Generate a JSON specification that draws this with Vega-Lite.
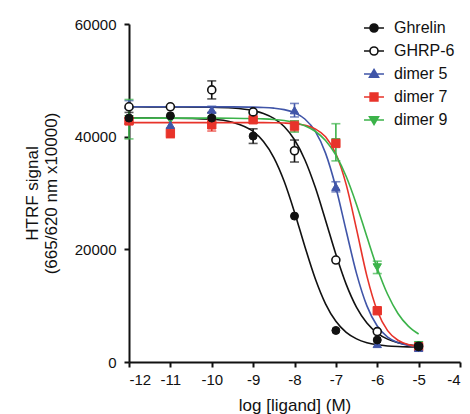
{
  "$schema": "https://vega.github.io/schema/vega-lite/v6.json",
  "width": 331,
  "height": 338,
  "autosize": {"type": "none"},
  "padding": {"left": 129, "top": 24, "right": 10, "bottom": 52},
  "background": "white",
  "config": {
    "view": {"stroke": null},
    "font": "Liberation Sans",
    "axis": {"grid": false, "domainColor": "#111", "domainWidth": 2, "tickColor": "#111", "tickWidth": 2, "tickSize": 5, "labelFont": "Liberation Sans", "labelFontSize": 15, "labelColor": "#111", "titleFont": "Liberation Sans", "titleFontSize": 17, "titleFontWeight": "normal", "titleColor": "#111"},
    "legend": {"symbolStrokeWidth": 1.6, "labelFont": "Liberation Sans", "labelFontSize": 16, "labelColor": "#111"}
  },
  "datasets": {
    "pts": [
      {"s": "Ghrelin", "x": -12, "y": 43300, "lo": 42300, "hi": 44300},
      {"s": "Ghrelin", "x": -11, "y": 43700},
      {"s": "Ghrelin", "x": -10, "y": 43300, "lo": 42300, "hi": 44300},
      {"s": "Ghrelin", "x": -9, "y": 40100, "lo": 38800, "hi": 41400},
      {"s": "Ghrelin", "x": -8, "y": 25900},
      {"s": "Ghrelin", "x": -7, "y": 5600},
      {"s": "Ghrelin", "x": -6, "y": 3900},
      {"s": "Ghrelin", "x": -5, "y": 2700},
      {"s": "GHRP-6", "x": -12, "y": 45300},
      {"s": "GHRP-6", "x": -11, "y": 45300},
      {"s": "GHRP-6", "x": -10, "y": 48300, "lo": 46700, "hi": 49900},
      {"s": "GHRP-6", "x": -9, "y": 44400},
      {"s": "GHRP-6", "x": -8, "y": 37500, "lo": 35500, "hi": 39400},
      {"s": "GHRP-6", "x": -7, "y": 18100},
      {"s": "GHRP-6", "x": -6, "y": 5400},
      {"s": "GHRP-6", "x": -5, "y": 2800},
      {"s": "dimer 5", "x": -12, "y": 45700, "lo": 45000, "hi": 46400},
      {"s": "dimer 5", "x": -11, "y": 42100},
      {"s": "dimer 5", "x": -10, "y": 44800, "lo": 44200, "hi": 45400},
      {"s": "dimer 5", "x": -9, "y": 44600},
      {"s": "dimer 5", "x": -8, "y": 44700, "lo": 43500, "hi": 45900},
      {"s": "dimer 5", "x": -7, "y": 31100, "lo": 30200, "hi": 32000},
      {"s": "dimer 5", "x": -6, "y": 3200},
      {"s": "dimer 5", "x": -5, "y": 2500},
      {"s": "dimer 7", "x": -12, "y": 42800},
      {"s": "dimer 7", "x": -11, "y": 40600, "lo": 39800, "hi": 41500},
      {"s": "dimer 7", "x": -10, "y": 42100, "lo": 41000, "hi": 43000},
      {"s": "dimer 7", "x": -9, "y": 43000},
      {"s": "dimer 7", "x": -8, "y": 41900, "lo": 41000, "hi": 42800},
      {"s": "dimer 7", "x": -7, "y": 38800},
      {"s": "dimer 7", "x": -6, "y": 9100},
      {"s": "dimer 7", "x": -5, "y": 2700},
      {"s": "dimer 9", "x": -12, "y": 43100, "lo": 39600, "hi": 46600},
      {"s": "dimer 9", "x": -11, "y": 43000},
      {"s": "dimer 9", "x": -10, "y": 43000},
      {"s": "dimer 9", "x": -9, "y": 43600, "lo": 43000, "hi": 44200},
      {"s": "dimer 9", "x": -8, "y": 41800, "lo": 40800, "hi": 42800},
      {"s": "dimer 9", "x": -7, "y": 39000, "lo": 35700, "hi": 42300},
      {"s": "dimer 9", "x": -6, "y": 16800, "lo": 15700, "hi": 17900},
      {"s": "dimer 9", "x": -5, "y": 3000}
    ],
    "fit": [
      {"s": "Ghrelin", "x": -12, "y": 43300}, {"s": "Ghrelin", "x": -11, "y": 43280}, {"s": "Ghrelin", "x": -10, "y": 43080}, {"s": "Ghrelin", "x": -9.5, "y": 42560}, {"s": "Ghrelin", "x": -9, "y": 40920}, {"s": "Ghrelin", "x": -8.75, "y": 39150}, {"s": "Ghrelin", "x": -8.5, "y": 36300}, {"s": "Ghrelin", "x": -8.25, "y": 32090}, {"s": "Ghrelin", "x": -8, "y": 26600}, {"s": "Ghrelin", "x": -7.75, "y": 20500}, {"s": "Ghrelin", "x": -7.5, "y": 14820}, {"s": "Ghrelin", "x": -7.25, "y": 10330}, {"s": "Ghrelin", "x": -7, "y": 7220}, {"s": "Ghrelin", "x": -6.75, "y": 5260}, {"s": "Ghrelin", "x": -6.5, "y": 4100}, {"s": "Ghrelin", "x": -6.25, "y": 3430}, {"s": "Ghrelin", "x": -6, "y": 3060}, {"s": "Ghrelin", "x": -5.75, "y": 2850}, {"s": "Ghrelin", "x": -5.5, "y": 2740}, {"s": "Ghrelin", "x": -5.25, "y": 2680}, {"s": "Ghrelin", "x": -5, "y": 2650},
      {"s": "GHRP-6", "x": -12, "y": 45300}, {"s": "GHRP-6", "x": -11, "y": 45290}, {"s": "GHRP-6", "x": -10, "y": 45230}, {"s": "GHRP-6", "x": -9.5, "y": 45090}, {"s": "GHRP-6", "x": -9, "y": 44630}, {"s": "GHRP-6", "x": -8.75, "y": 44130}, {"s": "GHRP-6", "x": -8.5, "y": 43260}, {"s": "GHRP-6", "x": -8.25, "y": 41810}, {"s": "GHRP-6", "x": -8, "y": 39460}, {"s": "GHRP-6", "x": -7.75, "y": 35910}, {"s": "GHRP-6", "x": -7.5, "y": 31050}, {"s": "GHRP-6", "x": -7.25, "y": 25180}, {"s": "GHRP-6", "x": -7, "y": 19120}, {"s": "GHRP-6", "x": -6.75, "y": 13780}, {"s": "GHRP-6", "x": -6.5, "y": 9700}, {"s": "GHRP-6", "x": -6.25, "y": 6910}, {"s": "GHRP-6", "x": -6, "y": 5130}, {"s": "GHRP-6", "x": -5.75, "y": 4060}, {"s": "GHRP-6", "x": -5.5, "y": 3440}, {"s": "GHRP-6", "x": -5.25, "y": 3070}, {"s": "GHRP-6", "x": -5, "y": 2870},
      {"s": "dimer 5", "x": -12, "y": 45300}, {"s": "dimer 5", "x": -11, "y": 45300}, {"s": "dimer 5", "x": -10, "y": 45297}, {"s": "dimer 5", "x": -9.5, "y": 45290}, {"s": "dimer 5", "x": -9, "y": 45250}, {"s": "dimer 5", "x": -8.75, "y": 45190}, {"s": "dimer 5", "x": -8.5, "y": 45060}, {"s": "dimer 5", "x": -8.25, "y": 44800}, {"s": "dimer 5", "x": -8, "y": 44250}, {"s": "dimer 5", "x": -7.75, "y": 43140}, {"s": "dimer 5", "x": -7.5, "y": 40970}, {"s": "dimer 5", "x": -7.25, "y": 37080}, {"s": "dimer 5", "x": -7, "y": 30990}, {"s": "dimer 5", "x": -6.75, "y": 23260}, {"s": "dimer 5", "x": -6.5, "y": 15690}, {"s": "dimer 5", "x": -6.25, "y": 9960}, {"s": "dimer 5", "x": -6, "y": 6380}, {"s": "dimer 5", "x": -5.75, "y": 4430}, {"s": "dimer 5", "x": -5.5, "y": 3440}, {"s": "dimer 5", "x": -5.25, "y": 2950}, {"s": "dimer 5", "x": -5, "y": 2710},
      {"s": "dimer 7", "x": -12, "y": 42500}, {"s": "dimer 7", "x": -11, "y": 42500}, {"s": "dimer 7", "x": -10, "y": 42500}, {"s": "dimer 7", "x": -9.5, "y": 42500}, {"s": "dimer 7", "x": -9, "y": 42490}, {"s": "dimer 7", "x": -8.75, "y": 42485}, {"s": "dimer 7", "x": -8.5, "y": 42464}, {"s": "dimer 7", "x": -8.25, "y": 42415}, {"s": "dimer 7", "x": -8, "y": 42300}, {"s": "dimer 7", "x": -7.75, "y": 42025}, {"s": "dimer 7", "x": -7.5, "y": 41390}, {"s": "dimer 7", "x": -7.25, "y": 39970}, {"s": "dimer 7", "x": -7, "y": 36970}, {"s": "dimer 7", "x": -6.75, "y": 31480}, {"s": "dimer 7", "x": -6.5, "y": 23540}, {"s": "dimer 7", "x": -6.25, "y": 15250}, {"s": "dimer 7", "x": -6, "y": 9090}, {"s": "dimer 7", "x": -5.75, "y": 5570}, {"s": "dimer 7", "x": -5.5, "y": 3856}, {"s": "dimer 7", "x": -5.25, "y": 3083}, {"s": "dimer 7", "x": -5, "y": 2748},
      {"s": "dimer 9", "x": -12, "y": 43300}, {"s": "dimer 9", "x": -11, "y": 43300}, {"s": "dimer 9", "x": -10, "y": 43290}, {"s": "dimer 9", "x": -9.5, "y": 43275}, {"s": "dimer 9", "x": -9, "y": 43220}, {"s": "dimer 9", "x": -8.75, "y": 43160}, {"s": "dimer 9", "x": -8.5, "y": 43050}, {"s": "dimer 9", "x": -8.25, "y": 42860}, {"s": "dimer 9", "x": -8, "y": 42530}, {"s": "dimer 9", "x": -7.75, "y": 41950}, {"s": "dimer 9", "x": -7.5, "y": 40960}, {"s": "dimer 9", "x": -7.25, "y": 39320}, {"s": "dimer 9", "x": -7, "y": 36720}, {"s": "dimer 9", "x": -6.75, "y": 32930}, {"s": "dimer 9", "x": -6.5, "y": 27930}, {"s": "dimer 9", "x": -6.25, "y": 22220}, {"s": "dimer 9", "x": -6, "y": 16660}, {"s": "dimer 9", "x": -5.75, "y": 12020}, {"s": "dimer 9", "x": -5.5, "y": 8620}, {"s": "dimer 9", "x": -5.25, "y": 6370}, {"s": "dimer 9", "x": -5, "y": 4970}
    ]
  },
  "encoding": {
    "x": {"field": "x", "type": "quantitative", "scale": {"domain": [-12, -4], "nice": false, "zero": false},
      "axis": {"title": "log [ligand] (M)", "values": [-12, -11, -10, -9, -8, -7, -6, -5, -4], "labelExpr": "datum.value + ''", "labelPadding": 5, "titlePadding": 10}},
    "y": {"field": "y", "type": "quantitative", "scale": {"domain": [0, 60000], "nice": false},
      "axis": {"title": ["HTRF signal", "(665/620 nm x10000)"], "values": [0, 20000, 40000, 60000], "labelExpr": "datum.value + ''", "labelPadding": 8, "titlePadding": 14, "titleLineHeight": 19}}
  },
  "layer": [
    {
      "data": {"name": "pts"},
      "mark": {"type": "point", "filled": true, "opacity": 1, "size": 1},
      "encoding": {
        "shape": {"field": "s", "type": "nominal",
          "scale": {"domain": ["Ghrelin", "GHRP-6", "dimer 5", "dimer 7", "dimer 9"],
            "range": [
              "M-1.6,0H-0.64M0.64,0H1.6M0.64,0A0.64,0.64 0 1 1 -0.64,0A0.64,0.64 0 1 1 0.64,0Z",
              "M-1.6,0H-0.64M0.64,0H1.6M0.64,0A0.64,0.64 0 1 1 -0.64,0A0.64,0.64 0 1 1 0.64,0Z",
              "M-1.6,0H1.6M0,-0.72L0.72,0.5L-0.72,0.5Z",
              "M-1.6,0H1.6M-0.62,-0.62H0.62V0.62H-0.62Z",
              "M-1.6,0H1.6M0,0.72L0.72,-0.5L-0.72,-0.5Z"
            ]},
          "legend": {"title": null, "orient": "none", "legendX": 237, "legendY": -4, "padding": 0, "symbolSize": 156, "labelOffset": 12, "rowPadding": 7, "symbolStrokeWidth": 1.6}},
        "stroke": {"field": "s", "type": "nominal",
          "scale": {"domain": ["Ghrelin", "GHRP-6", "dimer 5", "dimer 7", "dimer 9"], "range": ["#111111", "#111111", "#4055a8", "#e8332a", "#3cb34a"]},
          "legend": {"title": null, "orient": "none", "legendX": 237, "legendY": -4, "padding": 0, "symbolSize": 156, "labelOffset": 12, "rowPadding": 7, "symbolStrokeWidth": 1.6}},
        "fill": {"field": "s", "type": "nominal",
          "scale": {"domain": ["Ghrelin", "GHRP-6", "dimer 5", "dimer 7", "dimer 9"], "range": ["#111111", "#ffffff", "#4055a8", "#e8332a", "#3cb34a"]},
          "legend": {"title": null, "orient": "none", "legendX": 237, "legendY": -4, "padding": 0, "symbolSize": 156, "labelOffset": 12, "rowPadding": 7, "symbolStrokeWidth": 1.6}}
      }
    },
    {
      "data": {"name": "fit"},
      "mark": {"type": "line", "interpolate": "monotone", "strokeWidth": 1.6},
      "encoding": {
        "color": {"field": "s", "type": "nominal", "legend": null,
          "scale": {"domain": ["Ghrelin", "GHRP-6", "dimer 5", "dimer 7", "dimer 9"], "range": ["#111111", "#111111", "#4055a8", "#e8332a", "#3cb34a"]}},
        "order": {"field": "x", "type": "quantitative"}
      }
    },
    {
      "data": {"name": "pts"},
      "transform": [{"filter": "isValid(datum.lo)"}],
      "mark": {"type": "rule", "strokeWidth": 1.6},
      "encoding": {
        "y": {"field": "lo", "type": "quantitative"},
        "y2": {"field": "hi"},
        "color": {"field": "s", "type": "nominal", "legend": null}
      }
    },
    {
      "data": {"name": "pts"},
      "transform": [{"filter": "isValid(datum.lo)"}],
      "mark": {"type": "tick", "orient": "horizontal", "size": 9, "thickness": 1.6},
      "encoding": {
        "y": {"field": "lo", "type": "quantitative"},
        "color": {"field": "s", "type": "nominal", "legend": null}
      }
    },
    {
      "data": {"name": "pts"},
      "transform": [{"filter": "isValid(datum.hi)"}],
      "mark": {"type": "tick", "orient": "horizontal", "size": 9, "thickness": 1.6},
      "encoding": {
        "y": {"field": "hi", "type": "quantitative"},
        "color": {"field": "s", "type": "nominal", "legend": null}
      }
    },
    {
      "data": {"name": "pts"},
      "transform": [{"filter": "datum.s === 'dimer 9'"}],
      "mark": {"type": "point", "shape": "triangle-down", "size": 70, "filled": true, "fill": "#3cb34a", "stroke": "#3cb34a", "strokeWidth": 1, "opacity": 1}
    },
    {
      "data": {"name": "pts"},
      "transform": [{"filter": "datum.s === 'dimer 7'"}],
      "mark": {"type": "point", "shape": "square", "size": 70, "filled": true, "fill": "#e8332a", "stroke": "#e8332a", "strokeWidth": 1, "opacity": 1}
    },
    {
      "data": {"name": "pts"},
      "transform": [{"filter": "datum.s === 'dimer 5'"}],
      "mark": {"type": "point", "shape": "triangle-up", "size": 70, "filled": true, "fill": "#4055a8", "stroke": "#4055a8", "strokeWidth": 1, "opacity": 1}
    },
    {
      "data": {"name": "pts"},
      "transform": [{"filter": "datum.s === 'GHRP-6'"}],
      "mark": {"type": "point", "shape": "circle", "size": 64, "filled": true, "fill": "white", "stroke": "#111111", "strokeWidth": 1.6, "opacity": 1}
    },
    {
      "data": {"name": "pts"},
      "transform": [{"filter": "datum.s === 'Ghrelin'"}],
      "mark": {"type": "point", "shape": "circle", "size": 64, "filled": true, "fill": "#111111", "stroke": "#111111", "strokeWidth": 1, "opacity": 1}
    }
  ]
}
